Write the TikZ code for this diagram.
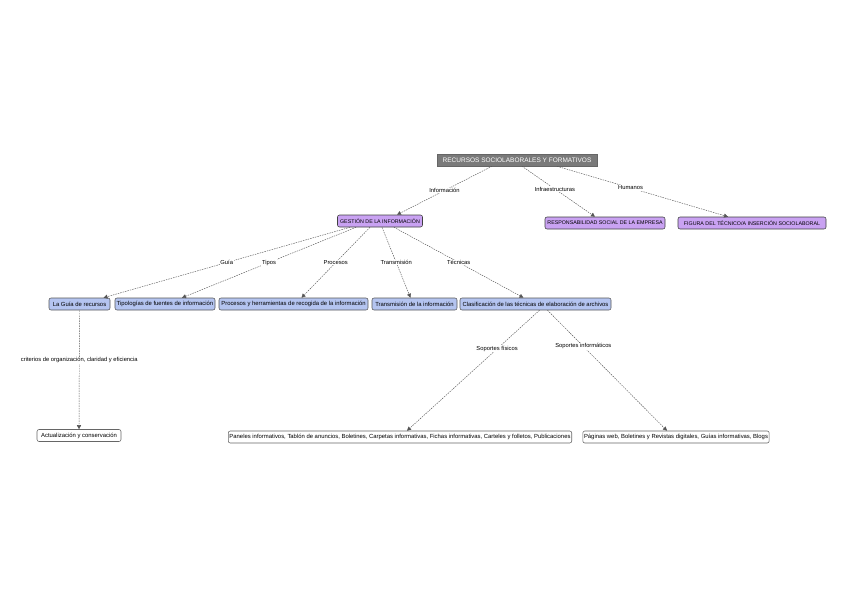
\documentclass[tikz,border=0pt]{standalone}
\usepackage{fontspec}
\setmainfont{Liberation Sans}
\usetikzlibrary{arrows.meta,calc}
\definecolor{purp}{HTML}{C9A2F2}
\definecolor{bluen}{HTML}{B4C4F0}
\definecolor{titlegray}{HTML}{7A7A7A}
\definecolor{linegray}{HTML}{555555}
\tikzset{
  base/.style={draw=black!75, rounded corners=2pt, minimum height=12pt, inner sep=1.2pt, font=\fontsize{5.9}{6.5}\selectfont, line width=0.55pt},
  titlebox/.style={base, fill=titlegray, text=white, rounded corners=0pt, draw=black!60, font=\fontsize{6.5}{7}\selectfont},
  purpbox/.style={base, fill=purp, font=\fontsize{5.3}{6}\selectfont},
  bluebox/.style={base, fill=bluen, draw=black!65},
  whitebox/.style={base, fill=white, draw=black!60},
  lbl/.style={fill=white, inner sep=0.8pt, font=\fontsize{5.8}{6.5}\selectfont},
  conn/.style={draw=linegray, dashed, dash pattern=on 1.5pt off 1pt, line width=0.45pt, -{Triangle[length=4pt,width=4pt]}}
}
\begin{document}
\begin{tikzpicture}[x=1pt,y=-1pt]
\useasboundingbox (0,0) rectangle (848,599);
% nodes
\node[titlebox, minimum width=160pt] (t) at (517,160) {RECURSOS SOCIOLABORALES Y FORMATIVOS};
\node[purpbox, minimum width=85pt] (g) at (380,221) {GESTIÓN DE LA INFORMACIÓN};
\node[purpbox, minimum width=120pt] (r) at (605,223) {RESPONSABILIDAD SOCIAL DE LA EMPRESA};
\node[purpbox, minimum width=148pt] (f) at (752,223) {FIGURA DEL TÉCNICO/A INSERCIÓN SOCIOLABORAL};
\node[bluebox, minimum width=61pt] (lg) at (79.5,304) {La Guía de recursos};
\node[bluebox, minimum width=100pt] (tf) at (165,304) {Tipologías de fuentes de información};
\node[bluebox, minimum width=149pt] (pr) at (293.5,304) {Procesos y herramientas de recogida de la información};
\node[bluebox, minimum width=85pt] (tr) at (414.5,304) {Transmisión de la información};
\node[bluebox, minimum width=151pt] (cl) at (535.5,304) {Clasificación de las técnicas de elaboración de archivos};
\node[whitebox, minimum width=84pt] (ac) at (79,435.5) {Actualización y conservación};
\node[whitebox, minimum width=342pt] (pa) at (400,437) {Paneles informativos, Tablón de anuncios, Boletines, Carpetas informativas, Fichas informativas, Carteles y folletos, Publicaciones};
\node[whitebox, minimum width=186pt] (pw) at (676,437) {Páginas web, Boletines y Revistas digitales, Guías informativas, Blogs};
% connectors
\draw[conn] ([xshift=-25pt]t.south) -- node[lbl, pos=0.5] {Información} ([xshift=17pt]g.north);
\draw[conn] ([xshift=5pt]t.south) -- node[lbl, pos=0.45] {Infraestructuras} ([xshift=-10pt]r.north);
\draw[conn] ([xshift=40pt]t.south) -- node[lbl, pos=0.43] {Humanos} ([xshift=-24pt]f.north);
\draw[conn] ([xshift=-30pt]g.south) -- node[lbl, pos=0.5] {Guía} ([xshift=24pt]lg.north);
\draw[conn] ([xshift=-24pt]g.south) -- node[lbl, pos=0.5] {Tipos} ([xshift=17pt]tf.north);
\draw[conn] ([xshift=-10pt]g.south) -- node[lbl, pos=0.5] {Procesos} ([xshift=8pt]pr.north);
\draw[conn] ([xshift=2pt]g.south) -- node[lbl, pos=0.5] {Transmisión} ([xshift=-4pt]tr.north);
\draw[conn] ([xshift=14pt]g.south) -- node[lbl, pos=0.5] {Técnicas} ([xshift=-12pt]cl.north);
\draw[conn] (lg.south) -- node[lbl, pos=0.42] {criterios de organización, claridad y eficiencia} (ac.north);
\draw[conn] ([xshift=4pt]cl.south) -- node[lbl, pos=0.32] {Soportes físicos} ([xshift=7pt]pa.north);
\draw[conn] ([xshift=12pt]cl.south) -- node[lbl, pos=0.30] {Soportes informáticos} ([xshift=-9pt]pw.north);
\end{tikzpicture}
\end{document}
